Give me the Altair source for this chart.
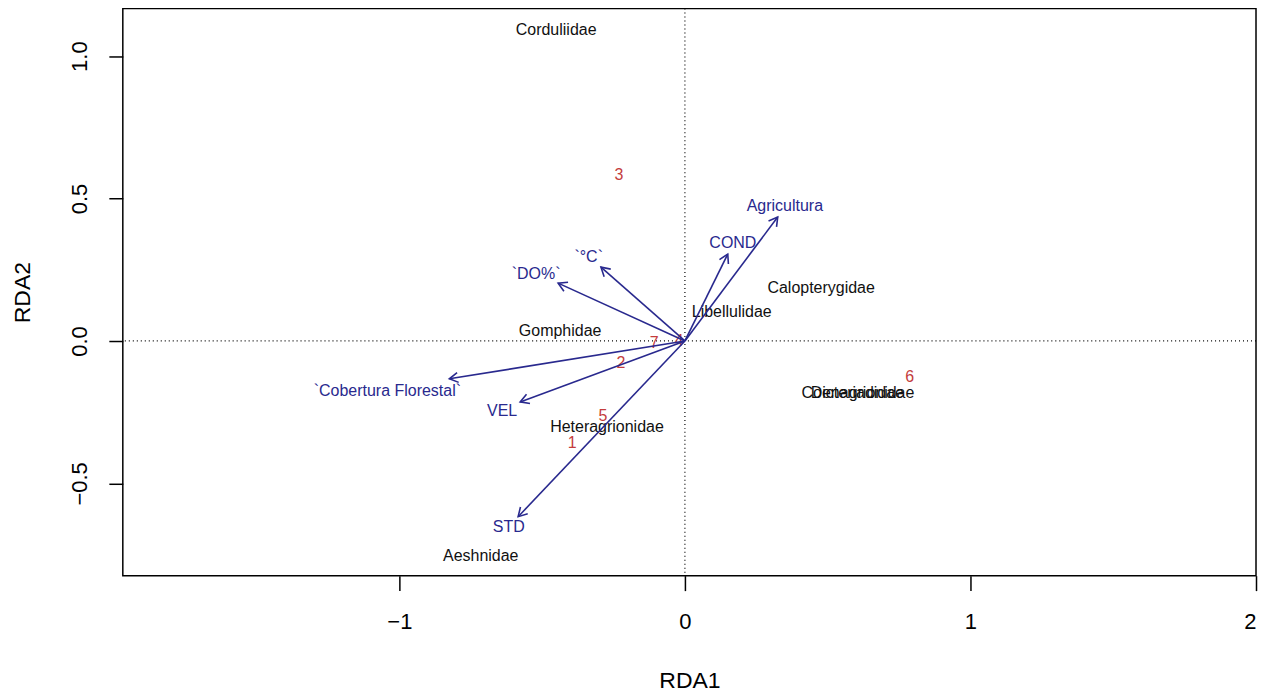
import math
import altair as alt
import pandas as pd

# ---- data ----
species = ["Corduliidae", "Calopterygidae", "Libellulidae", "Gomphidae",
           "Heteragrionidae", "Aeshnidae", "Coenagrionidae", "Dicteriadidae"]
sp_x = [-0.451, 0.477, 0.164, -0.437, -0.273, -0.715, 0.606, 0.604]
sp_y = [1.090, 0.186, 0.102, 0.035, -0.301, -0.754, -0.182, -0.182]

sites = ["1", "2", "3", "4", "5", "6", "7"]
site_x = [-0.395, -0.224, -0.231, -0.021, -0.287, 0.787, -0.108]
site_y = [-0.358, -0.077, 0.582, 0.000, -0.263, -0.126, -0.007]

env = ["Agricultura", "COND", "`°C`", "`DO%`", "`Cobertura Florestal`", "VEL", "STD"]
env_x = [0.325, 0.150, -0.294, -0.444, -0.825, -0.577, -0.584]
env_y = [0.435, 0.305, 0.259, 0.203, -0.133, -0.214, -0.617]
env_lab_x = [0.350, 0.168, -0.337, -0.521, -1.042, -0.640, -0.617]
env_lab_y = [0.473, 0.343, 0.294, 0.235, -0.175, -0.245, -0.655]

x_ticks = [-1, 0, 1, 2]
y_ticks = [-0.5, 0.0, 0.5, 1.0]
x_domain = [-1.9685, 2.0]
y_domain = [-0.824, 1.167]

FONT = "Liberation Sans"
NAVY = "#29298e"
RED = "#c43c3c"

sp_df = pd.DataFrame({"name": species, "x": sp_x, "y": sp_y})
site_df = pd.DataFrame({"name": sites, "x": site_x, "y": site_y})
env_df = pd.DataFrame({"name": env, "x": env_x, "y": env_y,
                       "lx": env_lab_x, "ly": env_lab_y})
env_df["ang"] = [(math.degrees(math.atan2(a, b)) + 360) % 360 for a, b in zip(env_x, env_y)]

xs = alt.Scale(domain=x_domain, nice=False, zero=False)
ys = alt.Scale(domain=y_domain, nice=False, zero=False)

x_axis = alt.Axis(values=x_ticks, format="d", title="RDA1", grid=False, domain=False,
                  tickSize=15, tickWidth=1.5, tickColor="black",
                  labelFontSize=22, labelFont=FONT, labelColor="black",
                  labelBaseline="alphabetic", labelPadding=38,
                  titleFont=FONT, titleFontSize=23, titleFontWeight="normal",
                  titleColor="black", titleBaseline="alphabetic", titleY=112)
y_axis = alt.Axis(values=y_ticks, format=".1f", title="RDA2", grid=False, domain=False,
                  tickSize=14, tickWidth=1.5, tickColor="black",
                  labelFontSize=22, labelFont=FONT, labelColor="black",
                  labelAngle=270, labelAlign="center", labelBaseline="alphabetic",
                  labelPadding=22,
                  titleFont=FONT, titleFontSize=23, titleFontWeight="normal",
                  titleColor="black", titleAngle=270, titleBaseline="alphabetic",
                  titleX=-93, titleY=284)

base_axes = alt.Chart(sp_df).mark_point(opacity=0).encode(
    x=alt.X("x:Q", scale=xs, axis=x_axis),
    y=alt.Y("y:Q", scale=ys, axis=y_axis),
)

vline = alt.Chart(pd.DataFrame({"v": [0]})).mark_rule(
    color="black", strokeDash=[1, 3], strokeWidth=1.2).encode(x=alt.X("v:Q", scale=xs))
hline = alt.Chart(pd.DataFrame({"v": [0]})).mark_rule(
    color="black", strokeDash=[1, 3], strokeWidth=1.2).encode(y=alt.Y("v:Q", scale=ys))

sp_text = alt.Chart(sp_df).mark_text(font=FONT, fontSize=16, color="#111111",
                                     align="center", baseline="middle").encode(
    x=alt.X("x:Q", scale=xs), y=alt.Y("y:Q", scale=ys), text="name:N")

site_text = alt.Chart(site_df).mark_text(font=FONT, fontSize=16, color=RED,
                                         align="center", baseline="middle").encode(
    x=alt.X("x:Q", scale=xs), y=alt.Y("y:Q", scale=ys), text="name:N")

arrows = alt.Chart(env_df).mark_rule(color=NAVY, strokeWidth=1.6).encode(
    x=alt.X("x:Q", scale=xs), y=alt.Y("y:Q", scale=ys),
    x2=alt.datum(0), y2=alt.datum(0))

heads = alt.Chart(env_df).mark_point(
    shape="M -0.5 0.866 L 0 0 L 0.5 0.866", filled=False, color=NAVY,
    strokeWidth=1.6, size=400, opacity=1).encode(
    x=alt.X("x:Q", scale=xs), y=alt.Y("y:Q", scale=ys),
    angle=alt.Angle("ang:Q", scale=None))

env_text = alt.Chart(env_df).mark_text(font=FONT, fontSize=16, color=NAVY,
                                       align="center", baseline="middle").encode(
    x=alt.X("lx:Q", scale=xs), y=alt.Y("ly:Q", scale=ys), text="name:N")

chart = alt.layer(base_axes, vline, hline, sp_text, site_text, arrows, heads, env_text).properties(
    width=1135, height=568,
    autosize=alt.AutoSizeParams(type="none"),
    padding={"left": 115, "top": 0, "right": 4, "bottom": 116},
    background="white",
).configure_view(stroke="black", strokeWidth=1.5)

chart.save("out.html", embed_options={"renderer": "svg", "actions": False})
